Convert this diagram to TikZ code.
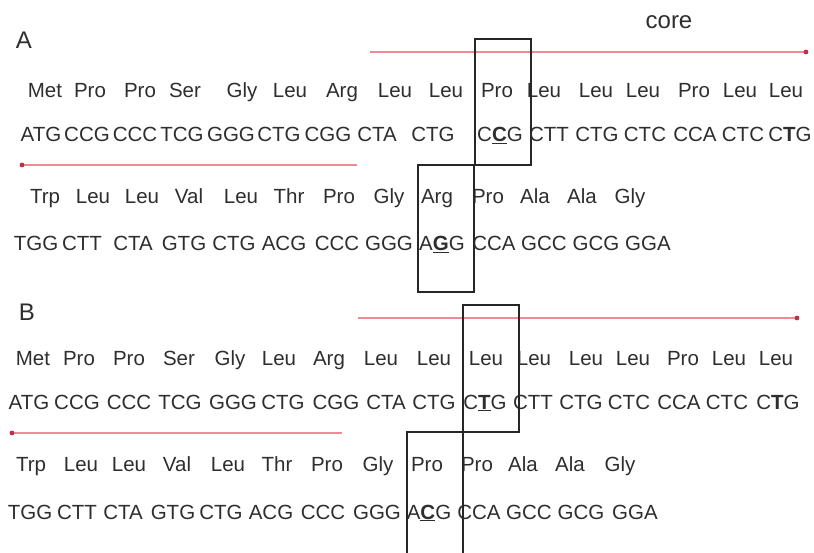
\documentclass[tikz,border=0pt]{standalone}
\usepackage{fontspec}
\setmainfont{Liberation Sans}
\newcommand\bmut[1]{\textbf{\underline{#1}}}
\definecolor{txt}{HTML}{2E2E2E}
\definecolor{pinkline}{HTML}{F08A94}
\definecolor{reddot}{HTML}{B8324A}
\tikzset{
  seq/.style={anchor=base, inner sep=0pt, text=txt, font=\fontsize{20.5}{24}\selectfont},
  lbl/.style={anchor=base, inner sep=0pt, text=txt, font=\fontsize{24}{28}\selectfont},
  redline/.style={draw=pinkline, line width=1.3pt},
  endot/.style={fill=reddot},
  boxline/.style={draw=black!85, line width=1.8pt}
}
\begin{document}
\begin{tikzpicture}[x=1pt,y=-1pt]
\useasboundingbox (0,0) rectangle (814,553);
\fill[white] (0,0) rectangle (814,553);

% labels
\node[lbl] (labA) at (24,49) {A};
\node[lbl] (labB) at (27,321) {B};
\node[lbl] (core) at (669,29) {core};

% ---------- Panel A ----------
\foreach \x/\t [count=\i] in {45/Met,90/Pro,140/Pro,185/Ser,242/Gly,290/Leu,342/Arg,395/Leu,446/Leu,497/Pro,544/Leu,596/Leu,643/Leu,694/Pro,740/Leu,786/Leu}
  \node[seq] (a1-\i) at (\x,98) {\t};
\foreach \x/\t [count=\i] in {41/ATG,87/CCG,135/CCC,182/TCG,231/GGG,279/CTG,328/CGG,377/CTA,433/CTG,500/{C\bmut{C}G},549/CTT,597/CTG,645/CTC,695/CCA,743/CTC,790/{C\textbf{T}G}}
  \node[seq] (a2-\i) at (\x,142) {\t};
\foreach \x/\t [count=\i] in {45/Trp,93/Leu,142/Leu,189/Val,241/Leu,289/Thr,339/Pro,389/Gly,437/Arg,488/Pro,535/Ala,582/Ala,630/Gly}
  \node[seq] (a3-\i) at (\x,204) {\t};
\foreach \x/\t [count=\i] in {36/TGG,82/CTT,133/CTA,184/GTG,234/CTG,284/ACG,337/CCC,389/GGG,442/{A\bmut{G}G},494/CCA,544/GCC,596/GCG,648/GGA}
  \node[seq] (a4-\i) at (\x,251) {\t};

\coordinate (ra1s) at (370,52);
\coordinate (ra1e) at (806,52);
\draw[redline] (ra1s) -- (ra1e);
\fill[endot] (ra1e) circle (2.4);
\coordinate (ra2s) at (357,165);
\coordinate (ra2e) at (22,165);
\draw[redline] (ra2s) -- (ra2e);
\fill[endot] (ra2e) circle (2.4);

\draw[boxline] (475,39) rectangle (531,165);
\draw[boxline] (418,165) rectangle (474,292);

% ---------- Panel B ----------
\foreach \x/\t [count=\i] in {33/Met,79/Pro,129/Pro,179/Ser,230/Gly,279/Leu,329/Arg,381/Leu,434/Leu,486/Leu,534/Leu,586/Leu,633/Leu,683/Pro,729/Leu,776/Leu}
  \node[seq] (b1-\i) at (\x,365) {\t};
\foreach \x/\t [count=\i] in {29/ATG,77/CCG,129/CCC,180/TCG,233/GGG,283/CTG,336/CGG,386/CTA,434/CTG,485/{C\bmut{T}G},533/CTT,581/CTG,629/CTC,679/CCA,727/CTC,778/{C\textbf{T}G}}
  \node[seq] (b2-\i) at (\x,409) {\t};
\foreach \x/\t [count=\i] in {31/Trp,81/Leu,129/Leu,177/Val,228/Leu,277/Thr,327/Pro,378/Gly,427/Pro,477/Pro,523/Ala,570/Ala,620/Gly}
  \node[seq] (b3-\i) at (\x,471) {\t};
\foreach \x/\t [count=\i] in {30/TGG,77/CTT,123/CTA,173/GTG,221/CTG,271/ACG,323/CCC,377/GGG,429/{A\bmut{C}G},479/CCA,529/GCC,581/GCG,635/GGA}
  \node[seq] (b4-\i) at (\x,519) {\t};

\coordinate (rb1s) at (358,318);
\coordinate (rb1e) at (797,318);
\draw[redline] (rb1s) -- (rb1e);
\fill[endot] (rb1e) circle (2.4);
\coordinate (rb2s) at (342,433);
\coordinate (rb2e) at (12,433);
\draw[redline] (rb2s) -- (rb2e);
\fill[endot] (rb2e) circle (2.4);

\draw[boxline] (463,305) rectangle (519,432);
\draw[boxline] (407,553) -- (407,432) -- (463,432);
\draw[boxline] (463,432) -- (463,553);
\end{tikzpicture}
\end{document}
